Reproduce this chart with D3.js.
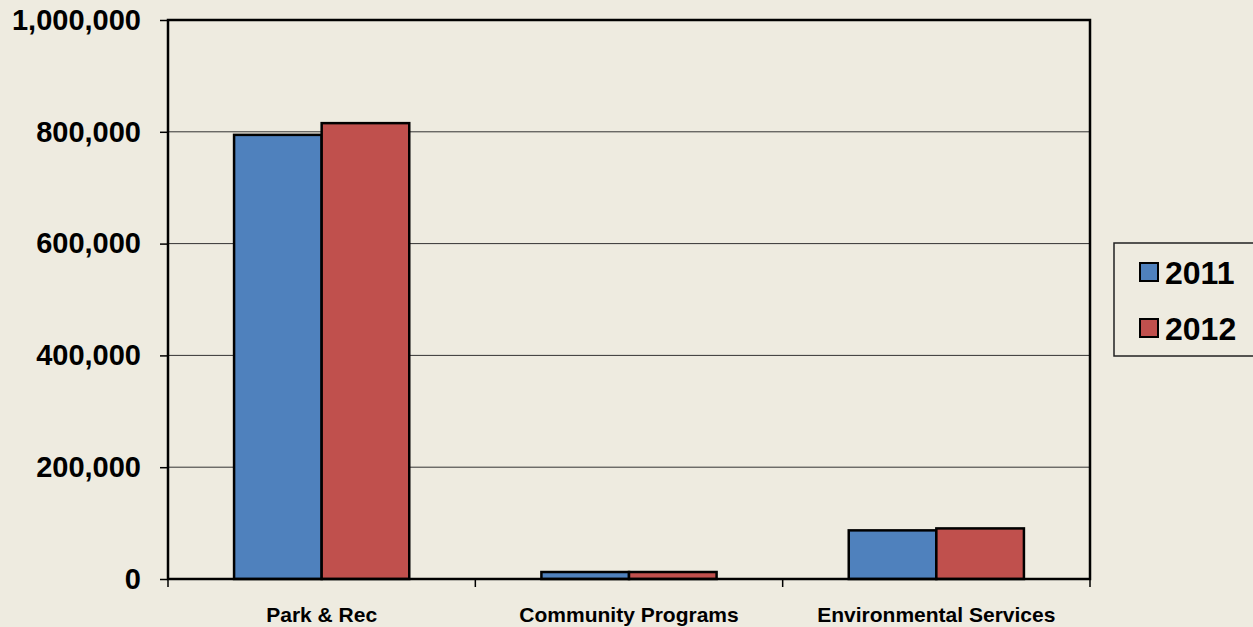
<!DOCTYPE html>
<html>
<head>
<meta charset="utf-8">
<script src="https://cdn.jsdelivr.net/npm/d3@7"></script>
<style>
  body { margin: 0; background: #eeebe0; }
  svg { display: block; font-family: "Liberation Sans", Arial, sans-serif; }
</style>
</head>
<body>
<div id="chart"></div>
<script>
// chart data
var categories = ["Park & Rec", "Community Programs", "Environmental Services"];
var years = ["2011", "2012"];
var values2011 = [794500, 12500, 87000];
var values2012 = [815500, 12500, 90500];
var yTicks = [0, 200000, 400000, 600000, 800000, 1000000];
var colors = ["#4f81bd", "#c0504d"];

var fullWidth = 1253, fullHeight = 627;
var margin = { top: 20, right: 163, bottom: 48, left: 168 };
var width = fullWidth - margin.left - margin.right;
var height = fullHeight - margin.top - margin.bottom;

var svg = d3.select("#chart")
    .append("svg")
    .attr("width", fullWidth)
    .attr("height", fullHeight);

svg.append("rect")
    .attr("width", fullWidth)
    .attr("height", fullHeight)
    .attr("fill", "#eeebe0");

var g = svg.append("g")
    .attr("transform", "translate(" + margin.left + "," + margin.top + ")");

var x = d3.scaleBand()
    .domain(categories)
    .range([0, width])
    .paddingInner(0.43)
    .paddingOuter(0.215);

var xSub = d3.scaleBand()
    .domain(years)
    .range([0, x.bandwidth()]);

var y = d3.scaleLinear()
    .domain([0, 1000000])
    .range([height, 0]);

// gridlines
g.append("g")
  .selectAll("line")
  .data(yTicks.slice(1, -1))
  .enter().append("line")
    .attr("x1", 0)
    .attr("x2", width)
    .attr("y1", function(d) { return y(d); })
    .attr("y2", function(d) { return y(d); })
    .attr("stroke", "#333")
    .attr("stroke-width", 1);

// Y axis
var yAxis = g.append("g")
    .call(d3.axisLeft(y).tickValues(yTicks).tickFormat(d3.format(",")).tickSize(8).tickPadding(19));
yAxis.select(".domain").remove();
yAxis.selectAll(".tick line").attr("stroke", "#000").attr("stroke-width", 1.5);
yAxis.selectAll("text")
    .attr("fill", "#000")
    .style("font-size", "29px")
    .style("font-weight", "bold");

// X axis: ticks at category boundaries
var xTickPos = [0, width / 3, 2 * width / 3, width];
g.append("g")
  .selectAll("line")
  .data(xTickPos)
  .enter().append("line")
    .attr("x1", function(d) { return d; })
    .attr("x2", function(d) { return d; })
    .attr("y1", height)
    .attr("y2", height + 8)
    .attr("stroke", "#000")
    .attr("stroke-width", 1.5);

g.append("g")
  .selectAll("text")
  .data(categories)
  .enter().append("text")
    .attr("x", function(d) { return x(d) + x.bandwidth() / 2; })
    .attr("y", height + 43)
    .attr("text-anchor", "middle")
    .style("font-size", "21px")
    .style("font-weight", "bold")
    .text(function(d) { return d; });

// bars
var series = [values2011, values2012];
years.forEach(function(yr, i) {
  g.append("g")
    .selectAll("rect")
    .data(categories)
    .enter().append("rect")
      .attr("x", function(d) { return x(d) + xSub(yr); })
      .attr("y", function(d, j) { return y(series[i][j]); })
      .attr("width", xSub.bandwidth())
      .attr("height", function(d, j) { return height - y(series[i][j]); })
      .attr("fill", colors[i])
      .attr("stroke", "#000")
      .attr("stroke-width", 2.5);
});

// plot frame
g.append("rect")
    .attr("width", width)
    .attr("height", height)
    .attr("fill", "none")
    .attr("stroke", "#000")
    .attr("stroke-width", 2.5);

// legend
var legend = svg.append("g")
    .attr("transform", "translate(1114,243)");
legend.append("rect")
    .attr("width", 150)
    .attr("height", 113)
    .attr("fill", "#eeebe0")
    .attr("stroke", "#222")
    .attr("stroke-width", 1.5);
years.forEach(function(yr, i) {
  var row = legend.append("g").attr("transform", "translate(0," + (i * 56) + ")");
  row.append("rect")
      .attr("x", 26)
      .attr("y", 20)
      .attr("width", 18)
      .attr("height", 18)
      .attr("fill", colors[i])
      .attr("stroke", "#000")
      .attr("stroke-width", 2);
  row.append("text")
      .attr("x", 51)
      .attr("y", 41)
      .style("font-size", "32px")
      .style("font-weight", "bold")
      .text(yr);
});
</script>
</body>
</html>
